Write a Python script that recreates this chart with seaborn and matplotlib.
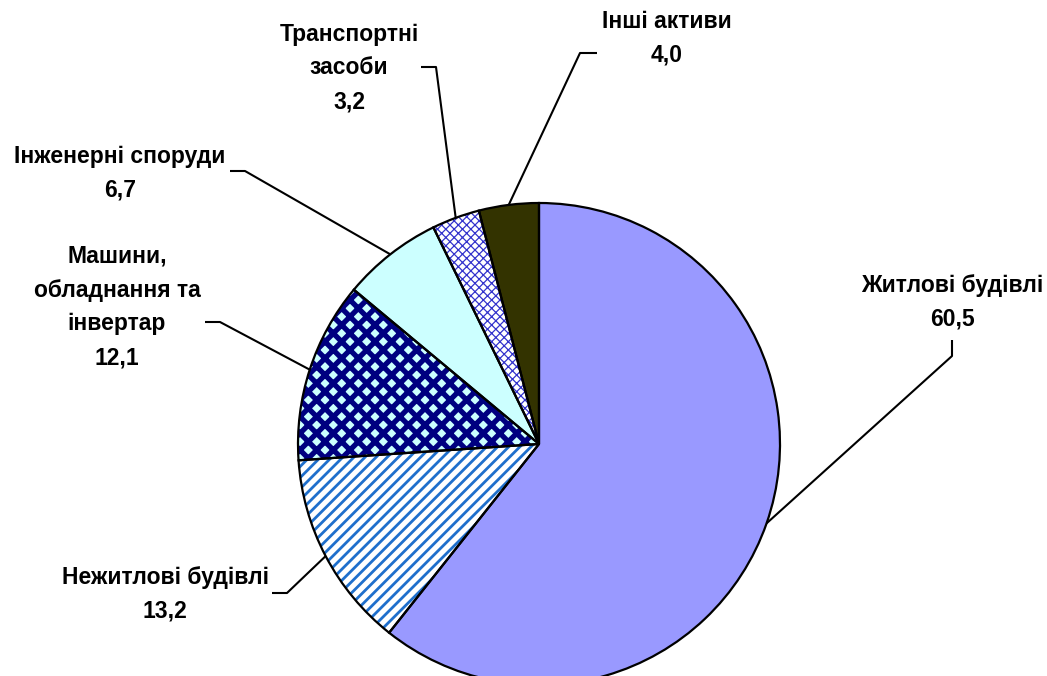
import matplotlib
matplotlib.use('Agg')
import matplotlib.pyplot as plt
import seaborn as sns
import numpy as np

# Частки основних засобів, %
categories = ['Житлові будівлі', 'Нежитлові будівлі', 'Машини,\nобладнання та\nінвертар',
              'Інженерні споруди', 'Транспортні\nзасоби', 'Інші активи']
values = [60.5, 13.2, 12.1, 6.7, 3.2, 4.0]
value_labels = ['60,5', '13,2', '12,1', '6,7', '3,2', '4,0']

face_colors = ['#9999FF', '#FFFFFF', '#CCFFFF', '#CCFFFF', '#FFFFFF', '#333300']
hatch_colors = ['#9999FF', '#1F6FCC', '#000080', '#CCFFFF', '#3333CC', '#333300']
hatches = [None, '///', 'xx', None, 'xxxx', None]
hatch_widths = [1.0, 2.0, 3.8, 1.0, 0.9, 1.0]

# Розташування підписів (пікселі від верхнього лівого кута) та злам лінії-виноски
label_pos = [(952, 302), (165, 594), (117, 307), (120, 173), (349, 68), (667, 38)]
elbow_a = [(952, 340), (272, 593), (205, 322), (230, 171), (421, 67), (597, 53)]
elbow_b = [(952, 356), (287, 593), (220, 322), (245, 171), (436, 67), (580, 53)]

W, H = 1047, 676
cx, cy, r = 539, H - 444, 241

sns.set_theme(style='white')
plt.rcParams['font.family'] = ['Liberation Sans', 'DejaVu Sans']

fig = plt.figure(figsize=(W / 100, H / 100), dpi=100)
ax = fig.add_axes([0, 0, 1, 1])

wedges, _ = ax.pie(values, startangle=90, counterclock=False, center=(cx, cy), radius=r,
                   colors=face_colors, wedgeprops=dict(linewidth=0))
for w, hc, h, hw in zip(wedges, hatch_colors, hatches, hatch_widths):
    w.set_edgecolor(hc)
    if h:
        w.set_hatch(h)
        w.set_hatch_linewidth(hw)

# контури секторів
ax.pie(values, startangle=90, counterclock=False, center=(cx, cy), radius=r,
       wedgeprops=dict(fill=False, edgecolor='black', linewidth=1.6))

for w, cat, val, lp, ea, eb in zip(wedges, categories, value_labels, label_pos, elbow_a, elbow_b):
    ang = np.deg2rad((w.theta1 + w.theta2) / 2)
    px, py = cx + r * np.cos(ang), cy + r * np.sin(ang)
    ax.plot([ea[0], eb[0], px], [H - ea[1], H - eb[1], py], color='black', lw=1.5,
            solid_capstyle='butt', zorder=3)
    ax.text(lp[0], H - lp[1], cat + '\n' + val, ha='center', va='center',
            fontsize=16.5, fontweight='bold', linespacing=1.6, color='black')

ax.set_xlim(0, W)
ax.set_ylim(0, H)
ax.set_aspect('equal')
ax.axis('off')

fig.savefig('out.png', dpi=100, facecolor='white')
